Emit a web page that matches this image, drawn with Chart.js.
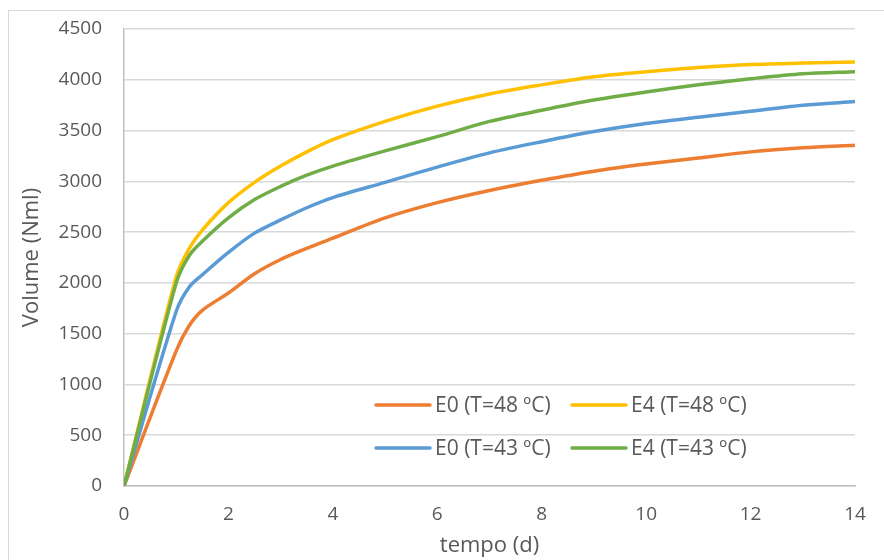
<!DOCTYPE html>
<html>
<head>
<meta charset="utf-8">
<script src="https://cdn.jsdelivr.net/npm/chart.js@4/dist/chart.umd.min.js"></script>
<style>
  html, body { margin: 0; padding: 0; background: #fff; }
  .frame { position: absolute; left: 8px; top: 10px; width: 900px; height: 600px; border: 1px solid #d9d9d9; box-sizing: border-box; }
  .wrap { position: absolute; left: 0; top: 0; width: 884px; height: 560px; }
</style>
</head>
<body>
<div class="frame"></div>
<div class="wrap"><canvas id="chart" width="884" height="560"></canvas></div>
<script>
// tempo (d)
const days = [0, 1, 1.25, 1.5, 2, 2.5, 3, 3.5, 4, 5, 6, 7, 8, 9, 10, 11, 12, 13, 14];

// Volume (Nml)
const e0_48 = [0, 1330, 1580, 1730, 1900, 2090, 2230, 2340, 2440, 2640, 2790, 2910, 3010, 3100, 3170, 3230, 3290, 3330, 3355];
const e4_48 = [0, 2060, 2340, 2520, 2790, 2990, 3150, 3290, 3410, 3590, 3740, 3860, 3950, 4030, 4080, 4120, 4150, 4165, 4175];
const e0_43 = [0, 1720, 1960, 2080, 2300, 2490, 2620, 2740, 2840, 2990, 3140, 3280, 3390, 3490, 3570, 3630, 3690, 3750, 3785];
const e4_43 = [0, 2000, 2270, 2410, 2640, 2820, 2950, 3060, 3150, 3300, 3440, 3590, 3700, 3800, 3880, 3950, 4010, 4060, 4080];

const seriesNames = ['E0 (T=48 ºC)', 'E4 (T=48 ºC)', 'E0 (T=43 ºC)', 'E4 (T=43 ºC)'];
const seriesColors = ['#ED7D31', '#FFC000', '#5B9BD5', '#70AD47'];

const textColor = '#595959';
const fontFamily = '"Open Sans", "Liberation Sans", sans-serif';

function toPoints(values) {
    return values.map((v, i) => ({ x: days[i], y: v }));
}

const allValues = [e0_48, e4_48, e0_43, e4_43];

// legend drawn inside the plot, 2 x 2 like the original
const insideLegend = {
    id: 'insideLegend',
    afterDatasetsDraw(chart) {
        const ctx = chart.ctx;
        const cols = [376, 572];
        const rows = [405, 448];
        ctx.save();
        ctx.font = '21px ' + fontFamily;
        ctx.fillStyle = textColor;
        ctx.textBaseline = 'middle';
        ctx.lineWidth = 3.5;
        ctx.lineCap = 'round';
        chart.data.datasets.forEach((ds, i) => {
            const x = cols[i % 2];
            const y = rows[Math.floor(i / 2)];
            ctx.strokeStyle = ds.borderColor;
            ctx.beginPath();
            ctx.moveTo(x, y);
            ctx.lineTo(x + 54, y);
            ctx.stroke();
            ctx.fillText(ds.label, x + 59, y + 1);
        });
        ctx.restore();
    }
};

new Chart(document.getElementById('chart').getContext('2d'), {
    type: 'line',
    data: {
        datasets: allValues.map((vals, i) => ({
            label: seriesNames[i],
            data: toPoints(vals),
            borderColor: seriesColors[i],
            backgroundColor: seriesColors[i],
            borderWidth: 3.5,
            pointRadius: 0,
            fill: false,
            tension: 0.3,
            order: 3 - i
        }))
    },
    options: {
        responsive: false,
        animation: false,
        layout: { padding: { left: 0, top: 29, right: 29, bottom: 0 } },
        plugins: {
            legend: { display: false },
            tooltip: { enabled: false }
        },
        scales: {
            x: {
                type: 'linear',
                min: 0,
                max: 14,
                afterFit: (scale) => { scale.height = 74; },
                ticks: {
                    stepSize: 2,
                    color: textColor,
                    padding: 17,
                    maxRotation: 0,
                    font: { family: fontFamily, size: 19 }
                },
                grid: { display: false, drawTicks: false },
                border: { color: '#bfbfbf', width: 1.5 },
                title: {
                    display: true,
                    text: 'tempo (d)',
                    color: textColor,
                    font: { family: fontFamily, size: 22 },
                    padding: { top: 0, bottom: 1 }
                }
            },
            y: {
                min: 0,
                max: 4500,
                afterFit: (scale) => { scale.width = 124; },
                ticks: {
                    stepSize: 500,
                    color: textColor,
                    padding: 0,
                    font: { family: fontFamily, size: 19 },
                    callback: (value) => String(value)
                },
                grid: { color: '#d9d9d9', lineWidth: 1.5, drawTicks: true, tickLength: 22, tickColor: 'rgba(0,0,0,0)' },
                border: { color: '#bfbfbf', width: 1.5 },
                title: {
                    display: true,
                    text: 'Volume (Nml)',
                    color: textColor,
                    font: { family: fontFamily, size: 22 },
                    padding: { top: 19, bottom: 0 }
                }
            }
        }
    },
    plugins: [insideLegend]
});
</script>
</body>
</html>
